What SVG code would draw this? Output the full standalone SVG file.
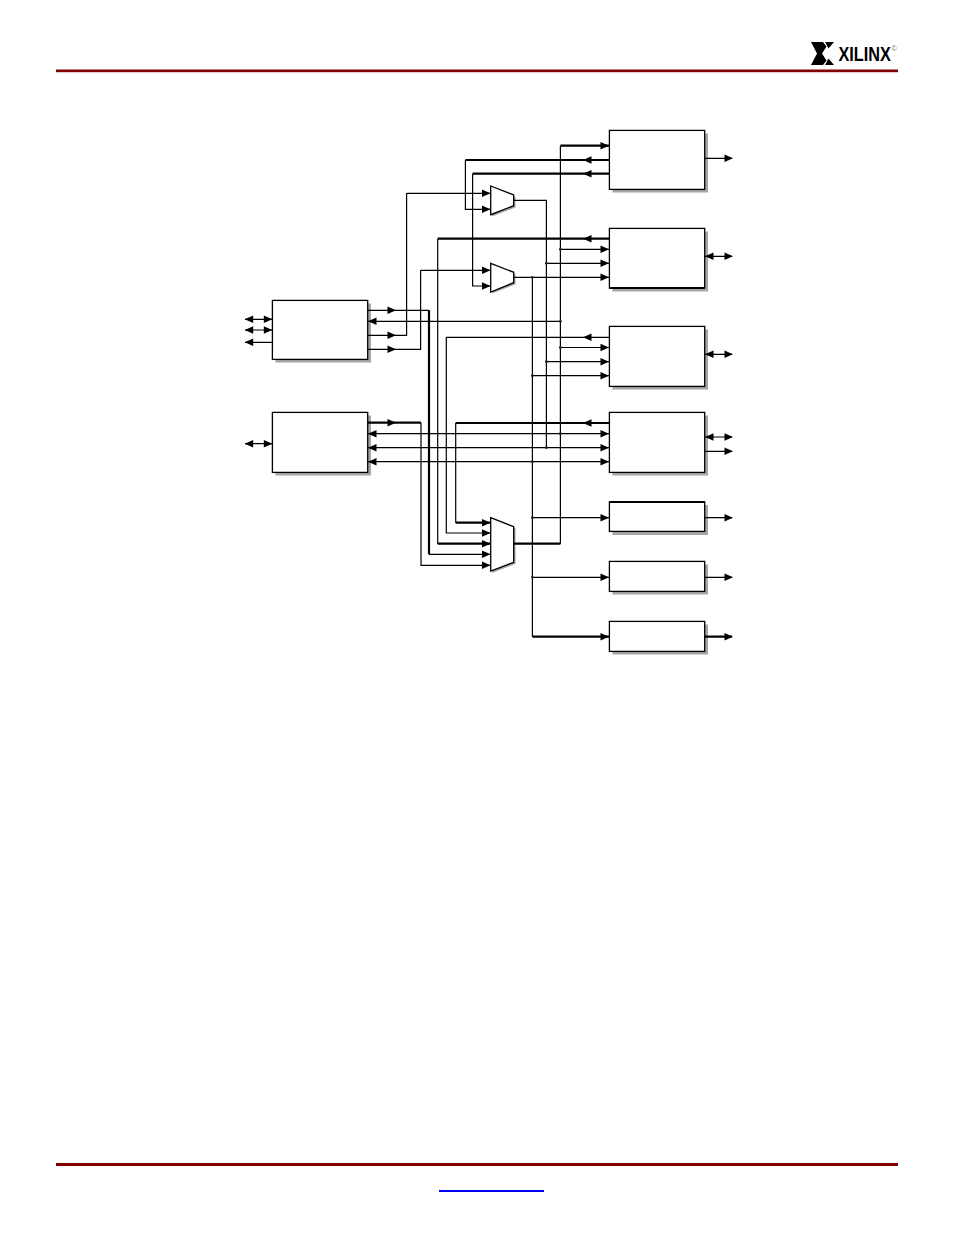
<svg xmlns="http://www.w3.org/2000/svg" width="954" height="1235" viewBox="0 0 954 1235">
<style>
.box{fill:#fff;stroke:#000;stroke-width:1.3}
.sh{fill:#a6a6a6}
.w{fill:none;stroke:#000;stroke-width:1.2}
.t{fill:none;stroke:#000;stroke-width:2.2}
.h{fill:#000}
.d{fill:#222}
.rule{fill:#800000}
</style>
<defs>
<path id="r" d="M-8.5-3.8 0 0-8.5 3.8Z"/>
<path id="l" d="M8.5-3.8 0 0 8.5 3.8Z"/>
<circle id="dot" r="1.4"/>
</defs>
<rect width="954" height="1235" fill="#fff"/>
<g id="header">
<rect class="rule" x="56" y="69.5" width="842" height="2.7"/>
<path id="logo-mark" d="M811 42H823L826.5 46.5 822 53.5 826.5 60.5 823 65H811L817 53.5ZM825 42H834L828.5 48.5ZM825 65H834L828.5 58.5Z" fill="#000"/>
<text transform="translate(838.5 60.8) scale(.775 1)" font-family="'Liberation Sans',Arial,sans-serif" font-size="21" font-weight="bold">XILINX</text>
<text x="891.6" y="50.5" font-family="'Liberation Sans',Arial,sans-serif" font-size="7" fill="#666">©</text>
</g>
<g id="footer">
<rect class="rule" x="56" y="1163" width="842" height="3"/>
<rect x="439" y="1190" width="105" height="2" fill="#0000ff"/>
</g>
<g id="box-a"><rect class="sh" x="275.5" y="303.5" width="95.5" height="59"/><rect class="box" x="272.4" y="300.4" width="95.3" height="59"/></g>
<g id="box-b"><rect class="sh" x="275.5" y="415.5" width="95.5" height="60"/><rect class="box" x="272.4" y="412.4" width="95.3" height="60"/></g>
<g id="box-1"><rect class="sh" x="612.5" y="133.5" width="95.5" height="59"/><rect class="box" x="609.4" y="130.4" width="95.3" height="59"/></g>
<g id="box-2"><rect class="sh" x="612.5" y="231.5" width="95.5" height="60"/><rect class="box" x="609.4" y="228.4" width="95.3" height="59.6"/><path d="M609.4 288H704.7" stroke="#000" stroke-width="2"/></g>
<g id="box-3"><rect class="sh" x="612.5" y="329.5" width="95.5" height="60"/><rect class="box" x="609.4" y="326.4" width="95.3" height="60"/></g>
<g id="box-4"><rect class="sh" x="612.5" y="415.5" width="95.5" height="60"/><rect class="box" x="609.4" y="412.4" width="95.3" height="60"/></g>
<g id="box-5"><rect class="sh" x="612.5" y="505" width="95.5" height="30"/><rect class="box" x="609.4" y="501.8" width="95.3" height="29.6"/><path d="M609.4 502H704.7" stroke="#000" stroke-width="2"/></g>
<g id="box-6"><rect class="sh" x="612.5" y="564.5" width="95.5" height="30"/><rect class="box" x="609.4" y="561.4" width="95.3" height="30"/></g>
<g id="box-7"><rect class="sh" x="612.5" y="624.5" width="95.5" height="30"/><rect class="box" x="609.4" y="621.4" width="95.3" height="30"/></g>
<g id="mux-1"><path class="sh" d="M492 188 515.5 197V207.5L492 216.5Z"/><path class="box" d="M490.7 186 513.7 195V205.7L490.7 214.7Z"/></g>
<g id="mux-2"><path class="sh" d="M492 265 515.5 274V284.5L492 293.5Z"/><path class="box" d="M490.7 263.3 513.7 272.3V282.7L490.7 292Z"/></g>
<g id="mux-3"><path class="sh" d="M492 519.5 515.5 528.5V564L492 573Z"/><path class="box" d="M490.7 517.7 513.7 526.7V562.3L490.7 571Z"/></g>
<g id="connectors">
<path class="t" d="M560.4 145.7H609M465.4 160H609M472.6 173.7H609M437.7 238.7H609M368 422.7H421M455.7 423H609M514 543.7H560.4M429 310.3V554.3M532.4 636.7H609M704.5 636.7H732M437.7 543.7H490M455.7 522.7H490"/>
<path class="w" d="M368 310.3H429M560.4 145.7V543.7M465.4 160V209.3H490M472.6 173.7V286H490M406.6 193.3H490M406.6 193.3V335.3H368M420.6 270.3H490M420.6 270.3V349.3H368M514 200.3H546.4V447.7M514 277.3H609M532.4 277.3V636.7M437.7 238.7V543.7M560.4 249.3H609M546.4 263.3H609M368 321.3H560.4M446.3 337.3H609M446.3 337.3V533H490M560.4 347.5H609M546.4 361.7H609M532.4 375.7H609M455.7 423V522.7M421 422.7V565.3H490M429 554.3H490M368 433.7H609M368 447.7H609M368 461.7H609M532.4 517.7H609M532.4 577.3H609M704.5 158.3H732M704.5 256.3H732M704.5 354.3H732M704.5 437H732M704.5 451.3H732M704.5 517.7H732M704.5 577.3H732M245 319.3H272M245 330H272M245 342.3H272M245 443.7H272"/>
<g class="h">
<use href="#r" x="609" y="145.7"/><use href="#l" x="583" y="160"/><use href="#l" x="583" y="173.7"/><use href="#r" x="733" y="158.3"/>
<use href="#l" x="583" y="238.7"/><use href="#r" x="609" y="249.3"/><use href="#r" x="609" y="263.3"/><use href="#r" x="609" y="277.3"/><use href="#l" x="705" y="256.3"/><use href="#r" x="733" y="256.3"/>
<use href="#l" x="583" y="337.3"/><use href="#r" x="609" y="347.5"/><use href="#r" x="609" y="361.7"/><use href="#r" x="609" y="375.7"/><use href="#l" x="705" y="354.3"/><use href="#r" x="733" y="354.3"/>
<use href="#l" x="583" y="423"/><use href="#r" x="609" y="433.7"/><use href="#r" x="609" y="447.7"/><use href="#r" x="609" y="461.7"/><use href="#l" x="705" y="437"/><use href="#r" x="733" y="437"/><use href="#r" x="733" y="451.3"/>
<use href="#r" x="609" y="517.7"/><use href="#r" x="733" y="517.7"/><use href="#r" x="609" y="577.3"/><use href="#r" x="733" y="577.3"/><use href="#r" x="609" y="636.7"/><use href="#r" x="733" y="636.7"/>
<use href="#r" x="490.5" y="193.3"/><use href="#r" x="490.5" y="209.3"/><use href="#r" x="490.5" y="270.3"/><use href="#r" x="490.5" y="286"/>
<use href="#r" x="490.5" y="522.7"/><use href="#r" x="490.5" y="533"/><use href="#r" x="490.5" y="543.7"/><use href="#r" x="490.5" y="554.3"/><use href="#r" x="490.5" y="565.3"/>
<use href="#r" x="396" y="310.3"/><use href="#r" x="396" y="335.3"/><use href="#r" x="396" y="349.3"/><use href="#r" x="396" y="422.7"/>
<use href="#l" x="368" y="321.3"/><use href="#l" x="368" y="433.7"/><use href="#l" x="368" y="447.7"/><use href="#l" x="368" y="461.7"/>
<use href="#l" x="244.7" y="319.3"/><use href="#r" x="272.3" y="319.3"/><use href="#l" x="244.7" y="330"/><use href="#r" x="272.3" y="330"/><use href="#l" x="244.7" y="342.3"/><use href="#l" x="244.7" y="443.7"/><use href="#r" x="272.3" y="443.7"/>
</g>
<g class="d">
<use href="#dot" x="560.4" y="249.3"/><use href="#dot" x="546.4" y="263.3"/><use href="#dot" x="532.4" y="277.3"/><use href="#dot" x="560.4" y="321.3"/><use href="#dot" x="560.4" y="347.5"/><use href="#dot" x="546.4" y="361.7"/><use href="#dot" x="532.4" y="375.7"/><use href="#dot" x="560.4" y="433.7"/><use href="#dot" x="546.4" y="447.7"/><use href="#dot" x="532.4" y="461.7"/><use href="#dot" x="532.4" y="517.7"/><use href="#dot" x="532.4" y="577.3"/>
</g>
</g>
</svg>
